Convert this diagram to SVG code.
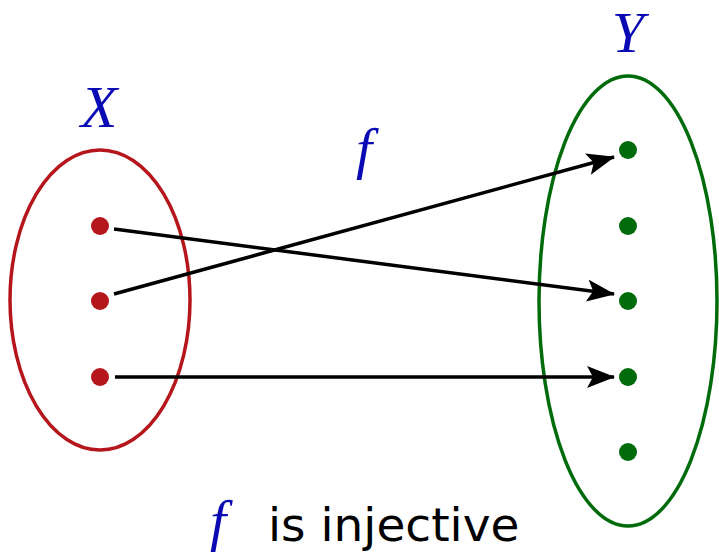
<svg xmlns="http://www.w3.org/2000/svg" width="719" height="558" viewBox="0 0 719 558">
<style>
.setX{fill:none;stroke:#b5161b;stroke-width:3.5}
.setY{fill:none;stroke:#006b0b;stroke-width:3.5}
.dx{fill:#b5161b}
.dy{fill:#006b0b}
.math{font-family:"Liberation Serif","DejaVu Serif",serif;font-style:italic;fill:#0a0ab4}
.txt{font-family:"DejaVu Sans","Liberation Sans",sans-serif;fill:#000}
.arr{stroke:#000;stroke-width:3.5;fill:none;marker-end:url(#ah)}
</style>
<defs>
<marker id="ah" markerWidth="28" markerHeight="22" refX="27" refY="11" orient="auto" markerUnits="userSpaceOnUse">
<path d="M0,0 L28,11 L0,22 L6,11 Z" fill="#000"/>
</marker>
</defs>
<g id="setX">
<ellipse class="setX" cx="100" cy="300" rx="90" ry="150"/>
<circle class="dx" cx="100" cy="226" r="9"/>
<circle class="dx" cx="100" cy="301" r="9"/>
<circle class="dx" cx="100" cy="377" r="9"/>
<text class="math" x="99" y="127" font-size="60" text-anchor="middle">X</text>
</g>
<g id="setY">
<ellipse class="setY" cx="628" cy="301" rx="89" ry="225"/>
<circle class="dy" cx="628" cy="150" r="9"/>
<circle class="dy" cx="628" cy="226" r="9"/>
<circle class="dy" cx="628" cy="301" r="9"/>
<circle class="dy" cx="628" cy="377" r="9"/>
<circle class="dy" cx="628" cy="452" r="9"/>
<text class="math" x="628" y="52" font-size="58" text-anchor="middle">Y</text>
</g>
<g id="connectors">
<line class="arr" x1="114" y1="229" x2="614" y2="294"/>
<line class="arr" x1="114" y1="294" x2="614" y2="157"/>
<line class="arr" x1="115" y1="377" x2="614" y2="377"/>
</g>
<g id="label-f">
<text class="math" x="364" y="168" font-size="58" text-anchor="middle">f</text>
</g>
<g id="caption">
<text class="math" x="218" y="540" font-size="58" text-anchor="middle">f</text>
<text class="txt" x="268" y="541" font-size="47">is injective</text>
</g>
</svg>
